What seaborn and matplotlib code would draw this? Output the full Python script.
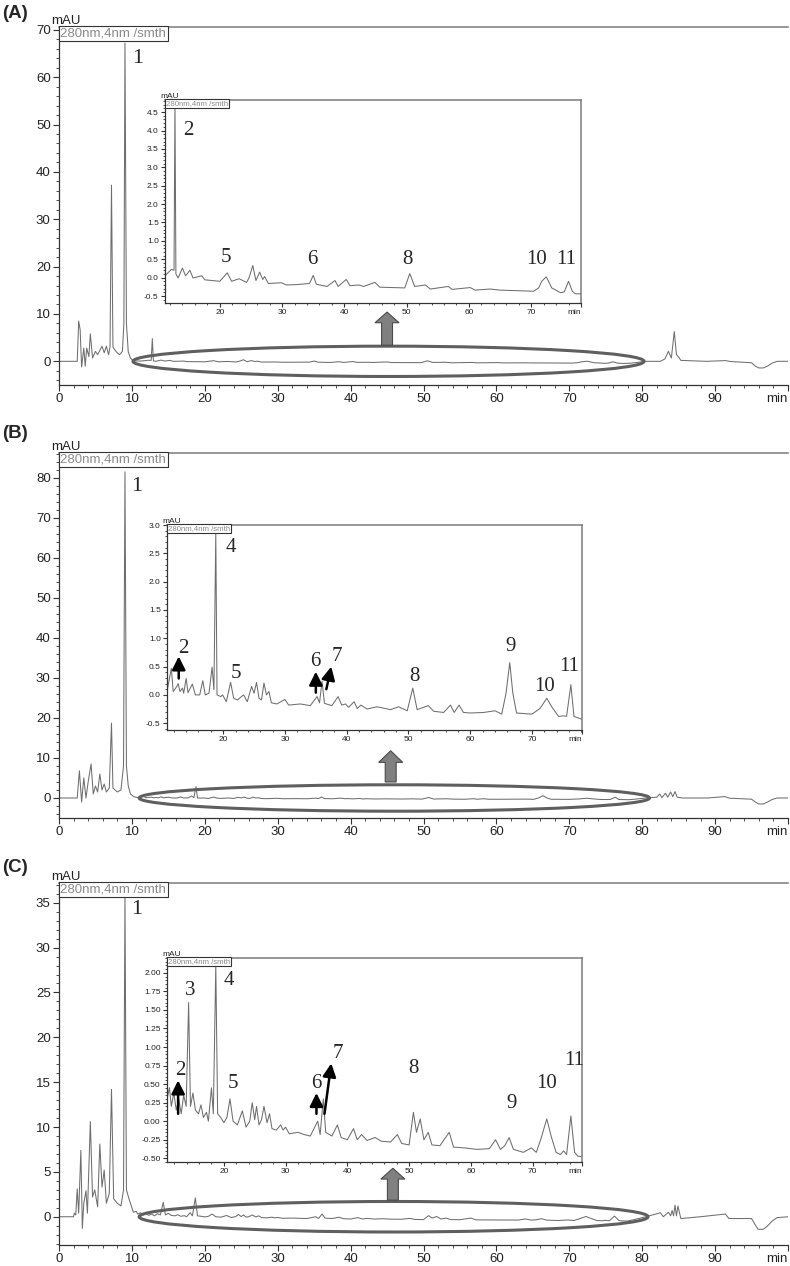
import numpy as np
import matplotlib
matplotlib.use("Agg")
import matplotlib.pyplot as plt
from matplotlib.patches import Ellipse, FancyArrow
from matplotlib.ticker import MultipleLocator, FormatStrFormatter
import seaborn as sns

# ---------------------------------------------------------------- data
# panel A: early part of the run (0-10 min), zoomed region (11-78 min), tail (79-100 min)
a_early_t = [0, 2.5, 2.7, 2.9, 3.1, 3.4, 3.6, 3.8, 4.1, 4.3, 4.6, 5.0, 5.3, 5.9, 6.2, 6.5, 6.8,
             7.0, 7.2, 7.4, 7.8, 8.0, 8.3, 8.7, 8.9, 9.05, 9.25, 9.5, 9.8, 10.2]
a_early_v = [0, 0, 8.5, 6.7, -1.2, 2.8, -1.0, 2.8, 1.0, 5.8, 0.7, 2.1, 1.4, 3.2, 1.8, 3.2, 1.4,
             3.0, 37.2, 3.0, 2.1, 1.8, 1.4, 2.1, 8.0, 67.2, 8.0, 2.0, 0.7, 0.1]
a_zoom_t = [11.2, 12.2, 12.65, 12.8, 12.95, 13.3, 14.0, 14.5, 15.2, 15.7, 17.1, 17.6, 20.0, 21.2,
            21.9, 23.1, 24.3, 24.7, 25.3, 25.8, 26.4, 26.9, 27.2, 27.8, 29.9, 30.7, 32.3, 34.4,
            35.0, 35.5, 37.2, 38.5, 39.0, 40.3, 40.9, 42.3, 43.1, 44.9, 45.7, 49.7, 50.5, 51.3,
            53.0, 53.8, 56.7, 57.3, 60.2, 61.0, 63.4, 65.0, 70.4, 71.2, 71.7, 72.4, 72.8, 73.3,
            74.7, 75.3, 76.0, 76.6, 77.1, 78.0]
a_zoom_v = [0.05, 0.22, 0.2, 4.8, 0.1, -0.01, 0.26, 0.05, 0.2, -0.01, 0.05, -0.06, -0.1, 0.13,
            -0.1, -0.03, -0.13, 0.0, 0.33, -0.08, 0.15, -0.05, 0.03, -0.16, -0.14, -0.2, -0.19, -0.16,
            0.06, -0.18, -0.24, -0.08, -0.24, -0.05, -0.22, -0.2, -0.24, -0.13, -0.26, -0.28, 0.11, -0.24,
            -0.2, -0.31, -0.24, -0.32, -0.27, -0.34, -0.31, -0.34, -0.37, -0.28, -0.1, 0.02, -0.1, -0.28,
            -0.41, -0.39, -0.1, -0.37, -0.44, -0.44]
a_late_t = [79.0, 80.5, 82.5, 83.1, 83.6, 84.0, 84.4, 84.7, 85.0, 85.3, 88.8, 91.4, 92.2,
            95.0, 95.5, 96.0, 96.6, 97.2, 97.8, 98.5, 100]
a_late_v = [-0.3, 0.0, 0.0, 0.5, 2.1, 0.7, 6.3, 1.4, 0.9, 0.2, 0.0, 0.15, -0.05,
            -0.3, -1.0, -1.4, -1.4, -1.0, -0.4, 0.0, 0.0]

# panel B
b_early_t = [0, 2.5, 2.8, 3.1, 3.4, 3.7, 4.0, 4.4, 4.7, 5.0, 5.3, 5.6, 5.9, 6.2, 6.5, 6.9,
             7.2, 7.4, 7.7, 8.0, 8.5, 8.85, 9.05, 9.25, 9.5, 9.8, 10.3]
b_early_v = [0, 0, 6.8, -1.0, 5.0, 0.0, 4.0, 8.5, 1.0, 3.0, 1.5, 6.0, 2.0, 3.5, 1.5, 2.5,
             18.7, 2.5, 2.0, 1.5, 2.0, 8.0, 81.5, 8.0, 3.0, 1.0, 0.3]
b_zoom_t = [10.9, 11.6, 11.9, 12.5, 12.7, 13.0, 13.4, 13.6, 14.0, 14.3, 15.0, 15.5, 16.2, 16.7,
            17.1, 17.7, 18.2, 18.5, 18.8, 19.0, 19.6, 19.9, 20.5, 21.2, 21.7, 22.3, 23.3, 23.9,
            24.6, 25.0, 25.4, 25.8, 26.2, 26.6, 27.0, 27.4, 27.8, 28.7, 30.0, 30.6, 32.5, 34.1,
            35.2, 35.6, 36.0, 36.4, 37.6, 38.6, 39.2, 39.8, 40.3, 41.2, 41.7, 42.3, 43.3, 44.9,
            47.1, 48.4, 49.8, 50.7, 51.4, 53.2, 54.1, 55.7, 56.8, 57.4, 58.2, 58.9, 60.0, 62.2,
            64.0, 65.1, 65.8, 66.4, 66.9, 67.5, 70.0, 71.3, 72.4, 73.2, 74.3, 75.1, 75.6, 76.3,
            76.8, 78.1]
b_zoom_v = [0.06, 0.47, 0.06, 0.15, 0.2, 0.06, 0.12, 0.03, 0.29, 0.04, 0.19, 0.0, 0.0, 0.25,
            0.0, 0.03, 0.49, 0.09, 2.85, 0.0, -0.03, 0.0, -0.12, 0.22, -0.06, -0.09, 0.0, -0.12,
            0.15, 0.03, 0.22, -0.06, -0.09, 0.21, 0.0, 0.06, -0.14, -0.16, -0.08, -0.18, -0.16, -0.19,
            -0.03, -0.14, 0.24, -0.15, -0.19, -0.03, -0.18, -0.16, -0.22, -0.12, -0.24, -0.18, -0.25, -0.21,
            -0.26, -0.21, -0.28, 0.12, -0.26, -0.19, -0.29, -0.31, -0.18, -0.31, -0.18, -0.31, -0.32, -0.31,
            -0.28, -0.34, 0.03, 0.57, 0.03, -0.32, -0.34, -0.24, -0.06, -0.21, -0.38, -0.37, -0.38, 0.18,
            -0.38, -0.43]
b_late_t = [79.0, 80.5, 82.0, 82.4, 82.7, 83.2, 83.5, 83.9, 84.2, 84.5, 84.8, 85.5, 89.0,
            91.3, 92.0, 95.0, 95.5, 96.0, 96.6, 97.2, 97.8, 98.5, 100]
b_late_v = [-0.3, 0.0, 0.2, 1.0, 0.1, 1.2, 0.2, 1.5, 0.3, 1.6, 0.2, 0.0, 0.0,
            0.35, -0.05, -0.3, -1.0, -1.5, -1.5, -1.0, -0.4, 0.0, 0.0]

# panel C
c_early_t = [0, 2.0, 2.1, 2.3, 2.5, 2.7, 3.0, 3.2, 3.4, 3.7, 3.9, 4.3, 4.6, 4.9, 5.3, 5.6, 5.9,
             6.2, 6.5, 6.9, 7.2, 7.5, 8.0, 8.5, 8.85, 9.05, 9.25, 9.6, 10.2, 10.6]
c_early_v = [0, 0, 0.4, 0.2, 3.1, 0.4, 7.4, -1.3, 1.5, 2.9, 0.4, 10.6, 2.2, 3.0, 1.1, 8.1, 3.3,
             5.2, 1.5, 2.6, 14.2, 2.0, 1.5, 1.2, 3.0, 35.9, 3.0, 2.0, 0.5, 0.6]
c_zoom_t = [10.8, 11.2, 11.5, 11.9, 12.3, 12.7, 13.1, 13.5, 13.9, 14.3, 14.6, 15.0, 15.4, 15.9,
            16.3, 16.7, 17.2, 17.5, 18.0, 18.3, 18.7, 19.0, 19.5, 20.0, 20.5, 21.0, 21.5, 22.2,
            23.0, 23.6, 24.2, 24.6, 25.0, 25.3, 25.7, 26.1, 26.5, 27.0, 27.4, 27.8, 28.5, 29.2,
            29.6, 30.0, 30.6, 32.0, 33.0, 34.0, 35.2, 35.6, 36.1, 36.5, 37.5, 38.4, 39.0, 40.0,
            41.0, 41.6, 42.3, 43.2, 44.5, 45.5, 47.0, 48.1, 48.8, 50.0, 50.7, 51.2, 51.8, 52.4,
            53.1, 53.7, 55.0, 56.5, 57.2, 59.0, 61.0, 63.0, 64.0, 64.8, 65.5, 66.2, 66.9, 68.5,
            69.8, 70.6, 71.3, 72.3, 73.0, 73.8, 74.5, 75.0, 75.5, 76.2, 76.8, 77.3, 78.0]
c_zoom_v = [0.3, 0.45, 0.2, 0.38, 0.15, 0.3, 0.1, 0.35, 0.2, 1.6, 0.2, 0.38, 0.15, 0.1,
            0.22, 0.05, 0.12, 0.0, 0.45, 0.1, 2.1, 0.1, 0.05, -0.02, 0.05, 0.3, 0.0, -0.05,
            0.14, -0.08, 0.0, 0.25, 0.02, 0.2, -0.05, 0.02, 0.2, -0.02, 0.1, -0.1, -0.12, -0.05,
            -0.12, -0.08, -0.17, -0.15, -0.18, -0.2, 0.0, -0.18, 0.3, -0.15, -0.2, -0.05, -0.22, -0.25,
            -0.1, -0.25, -0.18, -0.26, -0.22, -0.27, -0.28, -0.18, -0.3, -0.32, 0.12, -0.15, 0.03, -0.25,
            -0.15, -0.32, -0.33, -0.15, -0.35, -0.36, -0.38, -0.37, -0.25, -0.38, -0.33, -0.22, -0.38, -0.42,
            -0.36, -0.42, -0.25, 0.03, -0.2, -0.42, -0.45, -0.4, -0.45, 0.07, -0.42, -0.47, -0.48]
c_late_t = [79.0, 80.5, 82.5, 82.9, 83.6, 83.9, 84.1, 84.3, 84.5, 84.7, 84.9, 85.3, 88.0,
            91.4, 91.9, 95.0, 95.5, 95.9, 96.6, 97.1, 97.8, 98.5, 100]
c_late_v = [-0.3, 0.0, 0.44, 0.0, 0.5, 0.1, 0.7, 0.1, 1.3, 0.1, 1.2, -0.2, 0.0,
            0.3, -0.2, -0.2, -0.9, -1.4, -1.4, -1.1, -0.5, -0.1, 0.0]

# peak numbers: (label, time, level)
a_main_labels = [("1", 10.8, 64.0)]
a_zoom_labels = [("2", 14.9, 4.0), ("5", 21.0, 0.54), ("6", 34.9, 0.5), ("8", 50.2, 0.5),
                 ("10", 70.9, 0.5), ("11", 75.6, 0.5)]
b_main_labels = [("1", 10.6, 77.8)]
b_zoom_labels = [("4", 21.2, 2.6), ("2", 13.5, 0.82), ("5", 22.0, 0.38), ("6", 34.9, 0.59),
                 ("7", 38.4, 0.68), ("8", 51.0, 0.32), ("9", 66.5, 0.86), ("10", 72.1, 0.15),
                 ("11", 76.1, 0.51)]
c_main_labels = [("1", 10.7, 34.2)]
c_zoom_labels = [("3", 14.5, 1.76), ("4", 20.8, 1.9), ("2", 13.0, 0.69), ("5", 21.4, 0.51),
                 ("6", 35.0, 0.51), ("7", 38.5, 0.91), ("8", 50.7, 0.71), ("9", 66.6, 0.24),
                 ("10", 72.3, 0.51), ("11", 76.7, 0.82)]

# small black arrows in the zoomed traces: (base time, base level, tip time, tip level)
b_pointers = [(12.8, 0.29, 12.8, 0.68), (35.0, 0.04, 35.0, 0.41), (36.7, 0.1, 37.5, 0.5)]
c_pointers = [(12.6, 0.1, 12.6, 0.55), (35.0, 0.1, 35.0, 0.38), (36.3, 0.1, 37.4, 0.78)]

# ---------------------------------------------------------------- style
W, H = 790, 1266
TRACE = "#6e6e6e"
sns.set_style("ticks")
plt.rcParams["font.family"] = ["Liberation Sans", "DejaVu Sans"]
plt.rcParams["axes.unicode_minus"] = False


def px_rect(left, top, right, bottom):
    return [left / W, 1 - bottom / H, (right - left) / W, (bottom - top) / H]


def style_axes(ax, xlim, ylim, xmajor_ticks, xminor, ymajor, yminor, fmt, fs, inset):
    ax.set_xlim(*xlim)
    ax.set_ylim(*ylim)
    ax.set_xticks(xmajor_ticks)
    labels = [str(int(t)) for t in xmajor_ticks[:-1]] + ["min"]
    ax.set_xticklabels(labels)
    ax.get_xticklabels()[-1].set_horizontalalignment("right")
    ax.xaxis.set_minor_locator(MultipleLocator(xminor))
    ax.yaxis.set_major_locator(MultipleLocator(ymajor))
    ax.yaxis.set_minor_locator(MultipleLocator(yminor))
    ax.yaxis.set_major_formatter(FormatStrFormatter(fmt))
    ax.set_xlabel("")
    ax.set_ylabel("")
    L = 3 if inset else 4.5
    ax.tick_params(which="major", direction="out", length=L, width=0.8, color="#333333",
                   labelsize=fs, pad=1.5, labelcolor="#222222")
    ax.tick_params(which="minor", direction="out", length=L * 0.5, width=0.6, color="#333333")
    for s in ("left", "bottom"):
        ax.spines[s].set_color("#333333")
        ax.spines[s].set_linewidth(0.9)
    ax.spines["top"].set_color("#7a7a7a")
    ax.spines["top"].set_linewidth(1.1)
    if inset:
        ax.spines["right"].set_color("#7a7a7a")
        ax.spines["right"].set_linewidth(1.1)
    else:
        ax.spines["right"].set_visible(False)
    # channel box and unit label
    ax.text(0.002, 0.998, "280nm,4nm /smth", transform=ax.transAxes, ha="left", va="top",
            fontsize=5.6 if inset else 9.5, color="#8a8a8a",
            bbox=dict(boxstyle="square,pad=0.12", fc="white", ec="#333333", lw=0.8))
    ax.text(0.011 if inset else 0.0096, 1.0, "mAU", transform=ax.transAxes, ha="center",
            va="bottom", fontsize=6 if inset else 9.5, color="#222222")


def draw_panel(letter, letter_y, main_box, zoom_box, early, zoom, late, main_ylim, main_major,
               main_minor, zoom_xlim, zoom_ylim, zoom_major, zoom_minor, zoom_fmt,
               main_labels, zoom_labels, pointers, ellipse, block_arrow):
    fig.text(2 / W, 1 - letter_y / H, letter, fontsize=13.5, fontweight="bold", va="center", ha="left")

    t = np.concatenate([early[0], zoom[0], late[0]])
    v = np.concatenate([early[1], zoom[1], late[1]])

    # full chromatogram
    ax = fig.add_axes(px_rect(*main_box))
    sns.lineplot(x=t, y=v, ax=ax, color=TRACE, linewidth=0.75, estimator=None, sort=False)
    style_axes(ax, (0, 100), main_ylim, list(range(0, 100, 10)) + [100], 2,
               main_major, main_minor, "%d", 9.5, inset=False)
    for lab, x, y in main_labels:
        ax.text(x, y, lab, fontsize=16, family="Liberation Serif", ha="center", va="center")
    cx, w, h = ellipse
    ax.add_patch(Ellipse((cx, 0), w, h, fill=False, ec="#5f5f5f", lw=2.2, zorder=3))
    ax_x, y0, y1, head_len = block_arrow
    ax.add_patch(FancyArrow(ax_x, y0, 0, y1 - y0, width=1.5, head_width=3.3, head_length=head_len,
                            length_includes_head=True, fc="#808080", ec="#4a4a4a", lw=0.8, zorder=3))

    # zoomed region
    ins = fig.add_axes(px_rect(*zoom_box))
    ins.set_facecolor("white")
    sns.lineplot(x=zoom[0], y=zoom[1], ax=ins, color=TRACE, linewidth=0.75, estimator=None, sort=False)
    style_axes(ins, zoom_xlim, zoom_ylim, [20, 30, 40, 50, 60, 70, zoom_xlim[1]], 2,
               zoom_major, zoom_minor, zoom_fmt, 6, inset=True)
    for lab, x, y in zoom_labels:
        ins.text(x, y, lab, fontsize=15, family="Liberation Serif", ha="center", va="center")
    for x0, y0_, x1, y1_ in pointers:
        ins.annotate("", xy=(x1, y1_), xytext=(x0, y0_),
                     arrowprops=dict(arrowstyle="-|>,head_width=0.4,head_length=0.8",
                                     color="black", lw=1.8, shrinkA=0, shrinkB=0))
    return ax, ins


fig = plt.figure(figsize=(W / 100, H / 100), dpi=100)

draw_panel("(A)", 13.5, (59, 27, 788, 385), (165, 100, 581, 303),
           (a_early_t, a_early_v), (a_zoom_t, a_zoom_v), (a_late_t, a_late_v),
           (-5, 70.6), 10, 2, (11.2, 78.0), (-0.69, 4.83), 0.5, 0.1, "%.1f",
           a_main_labels, a_zoom_labels, [], (45.2, 70.1, 6.4), (45.0, 3.4, 10.4, 2.25))

draw_panel("(B)", 434, (59, 453, 788, 818), (167, 525, 582, 730),
           (b_early_t, b_early_v), (b_zoom_t, b_zoom_v), (b_late_t, b_late_v),
           (-5, 86.2), 10, 2, (10.9, 78.1), (-0.62, 3.0), 0.5, 0.1, "%.1f",
           b_main_labels, b_zoom_labels, b_pointers, (46.0, 70.0, 6.6), (45.5, 4.0, 11.8, 2.9))

draw_panel("(C)", 867, (59, 883, 788, 1245), (167, 958, 582, 1162),
           (c_early_t, c_early_v), (c_zoom_t, c_zoom_v), (c_late_t, c_late_v),
           (-3.15, 37.2), 5, 1, (10.8, 78.0), (-0.55, 2.2), 0.25, 0.05, "%.2f",
           c_main_labels, c_zoom_labels, c_pointers, (45.9, 69.8, 3.4), (45.8, 1.85, 5.4, 1.2))

fig.savefig("out.png", dpi=100)
plt.close(fig)
